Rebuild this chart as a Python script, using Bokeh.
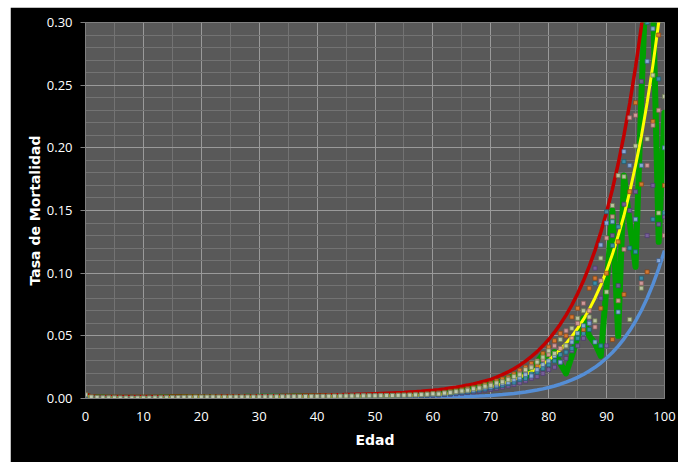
from bokeh.plotting import figure
from bokeh.layouts import column, row
from bokeh.models import Range1d, FixedTicker, NumeralTickFormatter, Spacer
from bokeh.embed import file_html
from bokeh.resources import INLINE

# ---------------- data ----------------
edades = list(range(0, 101))
ticks_x = [0, 10, 20, 30, 40, 50, 60, 70, 80, 90, 100]
ticks_y = [0.0, 0.05, 0.10, 0.15, 0.20, 0.25, 0.30]

tasa_roja = [
    0.0035, 0.0020, 0.0016, 0.0015, 0.0015, 0.0015, 0.0015, 0.0015, 0.0015, 0.0015,
    0.0015, 0.0015, 0.0015, 0.0016, 0.0016, 0.0017, 0.0017, 0.0018, 0.0018, 0.0018,
    0.0018, 0.0018, 0.0018, 0.0019, 0.0019, 0.0019, 0.0019, 0.0020, 0.0020, 0.0020,
    0.0021, 0.0021, 0.0022, 0.0022, 0.0023, 0.0023, 0.0024, 0.0024, 0.0025, 0.0025,
    0.0026, 0.0027, 0.0028, 0.0029, 0.0030, 0.0031, 0.0032, 0.0033, 0.0034, 0.0036,
    0.0038, 0.0040, 0.0042, 0.0044, 0.0046, 0.0048, 0.0051, 0.0054, 0.0057, 0.0061,
    0.0065, 0.0070, 0.0076, 0.0083, 0.0090, 0.0098, 0.0107, 0.0117, 0.0128, 0.0140,
    0.0153, 0.0170, 0.0190, 0.0212, 0.0237, 0.0266, 0.0298, 0.0334, 0.0374, 0.0420,
    0.0471, 0.0529, 0.0593, 0.0665, 0.0746, 0.0837, 0.0939, 0.1054, 0.1182, 0.1326,
    0.1488, 0.1669, 0.1873, 0.2101, 0.2357, 0.2644, 0.2966, 0.3330, 0.3740, 0.4200,
    0.4710]

tasa_azul = [
    0.0008, 0.0003, 0.0003, 0.0003, 0.0003, 0.0003, 0.0003, 0.0003, 0.0003, 0.0003,
    0.0003, 0.0003, 0.0003, 0.0003, 0.0003, 0.0003, 0.0003, 0.0003, 0.0003, 0.0003,
    0.0004, 0.0004, 0.0004, 0.0004, 0.0004, 0.0004, 0.0004, 0.0004, 0.0004, 0.0004,
    0.0004, 0.0004, 0.0005, 0.0005, 0.0005, 0.0005, 0.0005, 0.0006, 0.0006, 0.0006,
    0.0006, 0.0006, 0.0006, 0.0007, 0.0007, 0.0007, 0.0007, 0.0007, 0.0008, 0.0008,
    0.0008, 0.0008, 0.0009, 0.0009, 0.0009, 0.0010, 0.0010, 0.0011, 0.0011, 0.0012,
    0.0012, 0.0013, 0.0013, 0.0014, 0.0015, 0.0016, 0.0017, 0.0018, 0.0019, 0.0021,
    0.0024, 0.0028, 0.0031, 0.0036, 0.0040, 0.0046, 0.0052, 0.0060, 0.0068, 0.0077,
    0.0088, 0.0100, 0.0114, 0.0130, 0.0148, 0.0169, 0.0192, 0.0219, 0.0249, 0.0283,
    0.0323, 0.0367, 0.0418, 0.0476, 0.0542, 0.0617, 0.0702, 0.0800, 0.0910, 0.1036,
    0.1180]

tasa_amarilla = [
    0.0020, 0.0008, 0.0006, 0.0005, 0.0005, 0.0005, 0.0005, 0.0005, 0.0005, 0.0005,
    0.0005, 0.0005, 0.0006, 0.0006, 0.0007, 0.0008, 0.0008, 0.0009, 0.0009, 0.0010,
    0.0010, 0.0010, 0.0010, 0.0010, 0.0010, 0.0010, 0.0010, 0.0010, 0.0010, 0.0010,
    0.0010, 0.0011, 0.0011, 0.0011, 0.0012, 0.0012, 0.0012, 0.0013, 0.0013, 0.0014,
    0.0014, 0.0014, 0.0015, 0.0015, 0.0016, 0.0016, 0.0017, 0.0017, 0.0018, 0.0019,
    0.0019, 0.0020, 0.0020, 0.0021, 0.0022, 0.0022, 0.0023, 0.0024, 0.0025, 0.0026,
    0.0028, 0.0032, 0.0036, 0.0040, 0.0045, 0.0051, 0.0057, 0.0065, 0.0073, 0.0082,
    0.0093, 0.0104, 0.0118, 0.0133, 0.0150, 0.0169, 0.0190, 0.0214, 0.0242, 0.0272,
    0.0307, 0.0346, 0.0390, 0.0440, 0.0496, 0.0560, 0.0631, 0.0711, 0.0802, 0.0904,
    0.1020, 0.1150, 0.1300, 0.1460, 0.1650, 0.1860, 0.2090, 0.2360, 0.2660, 0.3000,
    0.3380]

tasa_verde = [
    0.0025, 0.0010, 0.0008, 0.0007, 0.0006, 0.0006, 0.0006, 0.0005, 0.0005, 0.0005,
    0.0005, 0.0006, 0.0006, 0.0007, 0.0008, 0.0009, 0.0010, 0.0011, 0.0011, 0.0012,
    0.0012, 0.0012, 0.0011, 0.0012, 0.0012, 0.0011, 0.0012, 0.0012, 0.0013, 0.0012,
    0.0013, 0.0013, 0.0014, 0.0013, 0.0014, 0.0014, 0.0015, 0.0015, 0.0015, 0.0016,
    0.0016, 0.0017, 0.0017, 0.0018, 0.0018, 0.0019, 0.0019, 0.0020, 0.0020, 0.0021,
    0.0021, 0.0022, 0.0023, 0.0024, 0.0025, 0.0026, 0.0028, 0.0029, 0.0031, 0.0033,
    0.0035, 0.0040, 0.0045, 0.0050, 0.0058, 0.0065, 0.0070, 0.0080, 0.0090, 0.0100,
    0.0120, 0.0120, 0.0140, 0.0160, 0.0180, 0.0200, 0.0170, 0.0220, 0.0290, 0.0350,
    0.0310, 0.0370, 0.0280, 0.0200, 0.0340, 0.0500, 0.0640, 0.0500, 0.0440, 0.0340,
    0.0900, 0.1500, 0.0500, 0.1780, 0.1400, 0.1050, 0.2400, 0.3600, 0.3200, 0.1250,
    0.2280]

# observed rates (six point series), ages 0-55 then 56-100
obs_gris = [
    0.0030, 0.0012, 0.0008, 0.0006, 0.0005, 0.0005, 0.0004, 0.0004, 0.0004, 0.0004,
    0.0004, 0.0004, 0.0005, 0.0005, 0.0006, 0.0007, 0.0008, 0.0009, 0.0010, 0.0011,
    0.0011, 0.0011, 0.0012, 0.0011, 0.0011, 0.0011, 0.0012, 0.0012, 0.0012, 0.0012,
    0.0013, 0.0013, 0.0013, 0.0014, 0.0014, 0.0015, 0.0015, 0.0016, 0.0016, 0.0017,
    0.0017, 0.0018, 0.0018, 0.0019, 0.0019, 0.0020, 0.0020, 0.0021, 0.0021, 0.0022,
    0.0022, 0.0023, 0.0024, 0.0024, 0.0025, 0.0026,
    0.0027, 0.0029, 0.0031, 0.0034, 0.0038, 0.0036, 0.0044, 0.0047, 0.0055, 0.0060,
    0.0066, 0.0078, 0.0084, 0.0098, 0.0105, 0.0124, 0.0133, 0.0150, 0.0175, 0.0190,
    0.0230, 0.0245, 0.0290, 0.0330, 0.0380, 0.0360, 0.0470, 0.0420, 0.0560, 0.0640,
    0.0700, 0.0650, 0.0620, 0.1120, 0.0850, 0.1540, 0.1780, 0.1770, 0.0630, 0.2015,
    0.0880, 0.2070, 0.2580, 0.1480, 0.2410]

obs_azul = [
    0.0026, 0.0010, 0.0007, 0.0005, 0.0004, 0.0004, 0.0003, 0.0003, 0.0003, 0.0003,
    0.0003, 0.0003, 0.0004, 0.0004, 0.0005, 0.0006, 0.0007, 0.0008, 0.0009, 0.0009,
    0.0010, 0.0010, 0.0010, 0.0010, 0.0010, 0.0010, 0.0010, 0.0011, 0.0011, 0.0011,
    0.0011, 0.0012, 0.0012, 0.0012, 0.0013, 0.0013, 0.0014, 0.0014, 0.0015, 0.0015,
    0.0016, 0.0016, 0.0017, 0.0017, 0.0018, 0.0018, 0.0019, 0.0019, 0.0020, 0.0020,
    0.0021, 0.0021, 0.0022, 0.0022, 0.0023, 0.0023,
    0.0024, 0.0025, 0.0027, 0.0029, 0.0031, 0.0035, 0.0038, 0.0043, 0.0047, 0.0054,
    0.0059, 0.0066, 0.0077, 0.0085, 0.0092, 0.0108, 0.0120, 0.0128, 0.0150, 0.0165,
    0.0190, 0.0180, 0.0230, 0.0270, 0.0300, 0.0340, 0.0290, 0.0420, 0.0450, 0.0520,
    0.0580, 0.0600, 0.0450, 0.1225, 0.1400, 0.1410, 0.0690, 0.1970, 0.1860, 0.1430,
    0.1860, 0.2690, 0.2950, 0.1100, 0.2000]

obs_naranja = [
    0.0034, 0.0013, 0.0009, 0.0007, 0.0006, 0.0005, 0.0005, 0.0005, 0.0004, 0.0004,
    0.0005, 0.0005, 0.0005, 0.0006, 0.0007, 0.0008, 0.0009, 0.0011, 0.0012, 0.0012,
    0.0013, 0.0013, 0.0013, 0.0013, 0.0012, 0.0013, 0.0013, 0.0013, 0.0014, 0.0014,
    0.0014, 0.0015, 0.0015, 0.0016, 0.0016, 0.0017, 0.0017, 0.0018, 0.0019, 0.0019,
    0.0020, 0.0020, 0.0021, 0.0022, 0.0022, 0.0023, 0.0023, 0.0024, 0.0025, 0.0025,
    0.0026, 0.0027, 0.0027, 0.0028, 0.0029, 0.0030,
    0.0031, 0.0033, 0.0035, 0.0038, 0.0041, 0.0046, 0.0050, 0.0057, 0.0062, 0.0070,
    0.0080, 0.0086, 0.0098, 0.0112, 0.0122, 0.0140, 0.0155, 0.0170, 0.0195, 0.0225,
    0.0250, 0.0280, 0.0260, 0.0360, 0.0410, 0.0460, 0.0520, 0.0500, 0.0650, 0.0720,
    0.0550, 0.0880, 0.0960, 0.0720, 0.1000, 0.0470, 0.1250, 0.0830, 0.1650, 0.2360,
    0.1710, 0.1010, 0.2210, 0.2900, 0.1700]

obs_rosa = [
    0.0028, 0.0011, 0.0007, 0.0006, 0.0005, 0.0004, 0.0004, 0.0004, 0.0003, 0.0003,
    0.0004, 0.0004, 0.0004, 0.0005, 0.0006, 0.0007, 0.0008, 0.0009, 0.0010, 0.0010,
    0.0011, 0.0011, 0.0011, 0.0011, 0.0011, 0.0011, 0.0011, 0.0012, 0.0012, 0.0012,
    0.0012, 0.0013, 0.0013, 0.0013, 0.0014, 0.0014, 0.0015, 0.0015, 0.0016, 0.0016,
    0.0017, 0.0017, 0.0018, 0.0018, 0.0019, 0.0019, 0.0020, 0.0020, 0.0021, 0.0021,
    0.0022, 0.0022, 0.0023, 0.0023, 0.0024, 0.0024,
    0.0025, 0.0026, 0.0028, 0.0031, 0.0034, 0.0038, 0.0042, 0.0048, 0.0052, 0.0058,
    0.0068, 0.0072, 0.0082, 0.0094, 0.0110, 0.0118, 0.0132, 0.0155, 0.0165, 0.0200,
    0.0215, 0.0255, 0.0300, 0.0310, 0.0350, 0.0420, 0.0400, 0.0540, 0.0480, 0.0600,
    0.0760, 0.0700, 0.0570, 0.0940, 0.1280, 0.1450, 0.0780, 0.1190, 0.2240, 0.2260,
    0.0920, 0.1860, 0.2180, 0.2300, 0.1300]

obs_morado = [
    0.0022, 0.0008, 0.0006, 0.0004, 0.0004, 0.0003, 0.0003, 0.0003, 0.0003, 0.0002,
    0.0003, 0.0003, 0.0003, 0.0004, 0.0004, 0.0005, 0.0006, 0.0007, 0.0007, 0.0008,
    0.0008, 0.0008, 0.0008, 0.0008, 0.0008, 0.0008, 0.0009, 0.0009, 0.0009, 0.0009,
    0.0009, 0.0010, 0.0010, 0.0010, 0.0010, 0.0011, 0.0011, 0.0011, 0.0012, 0.0012,
    0.0012, 0.0013, 0.0013, 0.0013, 0.0014, 0.0014, 0.0014, 0.0015, 0.0015, 0.0015,
    0.0016, 0.0016, 0.0016, 0.0017, 0.0017, 0.0017,
    0.0016, 0.0018, 0.0021, 0.0023, 0.0025, 0.0027, 0.0031, 0.0034, 0.0038, 0.0042,
    0.0047, 0.0052, 0.0058, 0.0066, 0.0072, 0.0080, 0.0090, 0.0100, 0.0112, 0.0125,
    0.0140, 0.0160, 0.0175, 0.0200, 0.0230, 0.0250, 0.0290, 0.0320, 0.0380, 0.0420,
    0.0480, 0.0620, 0.1040, 0.0800, 0.0420, 0.1300, 0.0900, 0.1550, 0.1500, 0.1650,
    0.2530, 0.1300, 0.1700, 0.1390, 0.1450]

obs_turquesa = [
    0.0024, 0.0009, 0.0006, 0.0005, 0.0004, 0.0004, 0.0003, 0.0003, 0.0003, 0.0003,
    0.0003, 0.0003, 0.0004, 0.0004, 0.0005, 0.0005, 0.0006, 0.0007, 0.0008, 0.0008,
    0.0009, 0.0009, 0.0009, 0.0009, 0.0009, 0.0009, 0.0010, 0.0010, 0.0010, 0.0010,
    0.0010, 0.0011, 0.0011, 0.0011, 0.0012, 0.0012, 0.0012, 0.0013, 0.0013, 0.0013,
    0.0014, 0.0014, 0.0015, 0.0015, 0.0015, 0.0016, 0.0016, 0.0016, 0.0017, 0.0017,
    0.0017, 0.0018, 0.0018, 0.0018, 0.0019, 0.0019,
    0.0018, 0.0020, 0.0023, 0.0026, 0.0029, 0.0032, 0.0035, 0.0039, 0.0044, 0.0049,
    0.0053, 0.0060, 0.0068, 0.0075, 0.0085, 0.0095, 0.0105, 0.0118, 0.0130, 0.0150,
    0.0160, 0.0195, 0.0210, 0.0240, 0.0270, 0.0300, 0.0350, 0.0370, 0.0400, 0.0480,
    0.0520, 0.0550, 0.0920, 0.0420, 0.1490, 0.1220, 0.1370, 0.1890, 0.1200, 0.1170,
    0.0960, 0.3000, 0.1430, 0.2550, 0.1480]

serie_puntos = [
    (obs_morado, "#7a5ea0", "#4e3a70"),
    (obs_turquesa, "#3a93b0", "#1f5c70"),
    (obs_naranja, "#e07a2e", "#8a4515"),
    (obs_rosa, "#d9a0a0", "#8a5a5a"),
    (obs_azul, "#8fb0e0", "#3e5f90"),
    (obs_gris, "#c4ccaa", "#6f8050"),
]

# ---------------- figure ----------------
fig = figure(width=668, height=455, output_backend="svg", toolbar_location=None,
             x_range=Range1d(0, 100), y_range=Range1d(0, 0.30),
             min_border_left=75, min_border_right=14, min_border_top=15,
             min_border_bottom=64)

fig.background_fill_color = "#595959"
fig.border_fill_color = "#000000"
fig.outline_line_color = "#808080"

fig.xaxis.ticker = FixedTicker(ticks=ticks_x,
                               minor_ticks=[5 * i for i in range(21)])
fig.yaxis.ticker = FixedTicker(ticks=ticks_y,
                               minor_ticks=[i / 100 for i in range(31)])
fig.yaxis.formatter = NumeralTickFormatter(format="0.00")

fig.xgrid.grid_line_color = "#9a9a9a"
fig.ygrid.grid_line_color = "#9a9a9a"
fig.xgrid.minor_grid_line_color = "#737373"
fig.ygrid.minor_grid_line_color = "#737373"

for ax in (fig.xaxis, fig.yaxis):
    ax.axis_line_color = "#808080"
    ax.major_tick_line_color = "#808080"
    ax.minor_tick_line_color = None
    ax.major_label_text_color = "#ffffff"
    ax.major_label_text_font = "Open Sans"
    ax.major_label_text_font_size = "13px"
    ax.axis_label_text_color = "#ffffff"
    ax.axis_label_text_font = "DejaVu Sans"
    ax.axis_label_text_font_style = "bold"
    ax.axis_label_text_font_size = "14px"

fig.xaxis.major_tick_out = 0
fig.xaxis.major_tick_in = 0
fig.xaxis.major_label_standoff = 9
fig.xaxis.axis_label = "Edad"
fig.xaxis.axis_label_standoff = 8

fig.yaxis.major_tick_out = 5
fig.yaxis.major_tick_in = 0
fig.yaxis.major_label_standoff = 8
fig.yaxis.axis_label = "Tasa de Mortalidad"
fig.yaxis.axis_label_standoff = 1

# lines
fig.line(edades, tasa_verde, line_color="#00a000", line_width=6,
         line_join="round", line_cap="round")
fig.line(edades, tasa_roja, line_color="#c00000", line_width=3.5)
fig.line(edades, tasa_azul, line_color="#558ed5", line_width=3.5)
fig.line(edades, tasa_amarilla, line_color="#ffff00", line_width=3)

# observed points
for vals, fill, edge in serie_puntos:
    fig.scatter(edades, vals, marker="square", size=4, fill_color=fill,
                line_color=edge, line_width=0.8, alpha=0.9)

p = column(Spacer(height=7), row(Spacer(width=10), fig))

open("out.html", "w").write(file_html(p, INLINE))
